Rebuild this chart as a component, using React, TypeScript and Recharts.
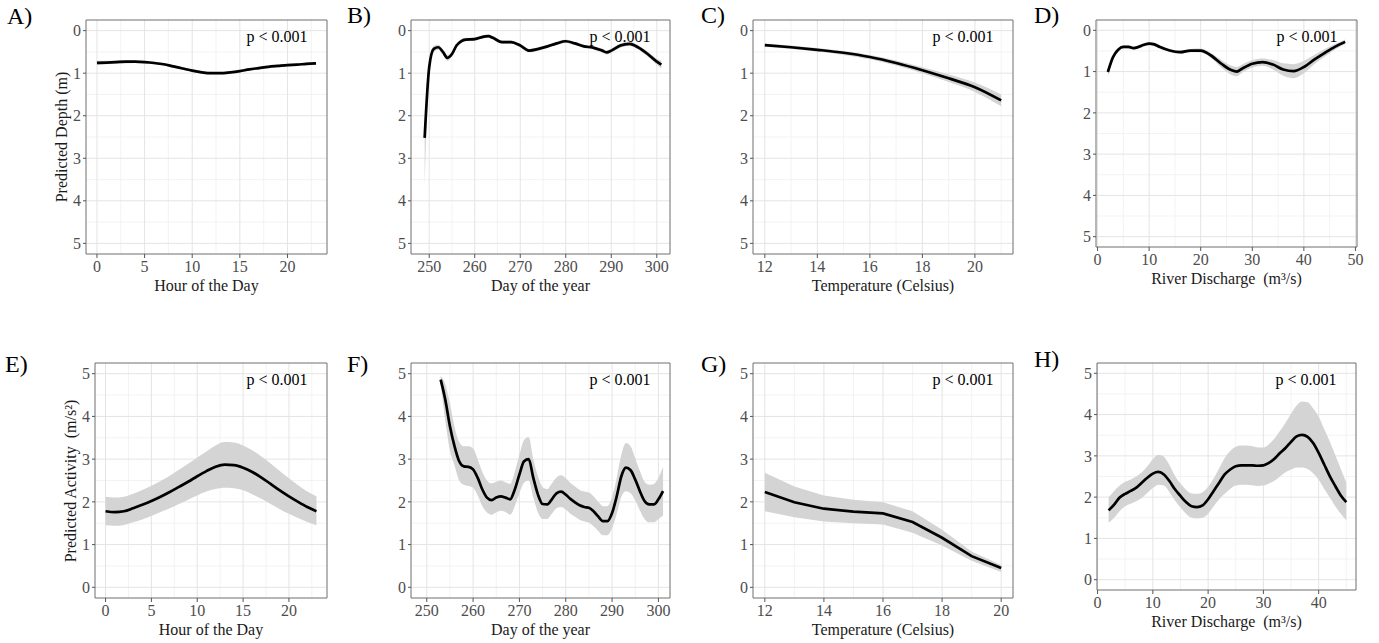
import React from "react";
import { ComposedChart, Area, Line, XAxis, YAxis, CartesianGrid, ReferenceArea } from "recharts";

// ---- data ----
const hours = [0, 1, 2, 3, 4, 5, 6, 7, 8, 9, 10, 11, 12, 13, 14, 15, 16, 17, 18, 19, 20, 21, 22, 23];

const depthHourFit = [0.76, 0.75, 0.74, 0.73, 0.73, 0.74, 0.76, 0.79, 0.84, 0.89, 0.94, 0.98, 1.0, 1.0, 0.98, 0.95, 0.91, 0.88, 0.85, 0.83, 0.81, 0.8, 0.78, 0.77];
const depthHourLo = [0.71, 0.71, 0.7, 0.7, 0.7, 0.71, 0.73, 0.76, 0.81, 0.86, 0.91, 0.95, 0.97, 0.97, 0.95, 0.92, 0.88, 0.85, 0.82, 0.8, 0.78, 0.77, 0.75, 0.73];
const depthHourHi = [0.81, 0.79, 0.78, 0.77, 0.76, 0.77, 0.79, 0.82, 0.87, 0.92, 0.97, 1.01, 1.03, 1.03, 1.01, 0.98, 0.94, 0.91, 0.88, 0.86, 0.84, 0.83, 0.81, 0.81];

const depthDays = [249, 250, 251, 252, 253, 254, 255, 256, 257, 258, 260, 262, 263, 264, 266, 268, 270, 272, 274, 276, 278, 280, 282, 284, 286, 288, 289, 290, 292, 294, 296, 298, 300, 301];
const depthDayFit = [2.52, 0.86, 0.43, 0.39, 0.5, 0.64, 0.55, 0.35, 0.25, 0.21, 0.2, 0.14, 0.13, 0.17, 0.27, 0.27, 0.35, 0.47, 0.43, 0.37, 0.3, 0.25, 0.3, 0.37, 0.4, 0.47, 0.51, 0.47, 0.35, 0.31, 0.4, 0.55, 0.73, 0.8];
const depthDayLo = [2.3, 0.75, 0.36, 0.33, 0.44, 0.57, 0.49, 0.3, 0.2, 0.17, 0.16, 0.1, 0.09, 0.13, 0.23, 0.23, 0.31, 0.43, 0.39, 0.33, 0.26, 0.21, 0.26, 0.33, 0.36, 0.42, 0.46, 0.42, 0.3, 0.26, 0.35, 0.49, 0.66, 0.71];
const depthDayHi = [3.8, 0.97, 0.5, 0.45, 0.56, 0.71, 0.61, 0.4, 0.3, 0.25, 0.24, 0.18, 0.17, 0.21, 0.31, 0.31, 0.39, 0.51, 0.47, 0.41, 0.34, 0.29, 0.34, 0.41, 0.44, 0.52, 0.56, 0.52, 0.4, 0.36, 0.45, 0.61, 0.8, 0.89];

const depthTemps = [12, 13, 14, 15, 16, 17, 18, 19, 20, 21];
const depthTempFit = [0.34, 0.39, 0.45, 0.52, 0.62, 0.76, 0.93, 1.12, 1.33, 1.64];
const depthTempLo = [0.3, 0.35, 0.41, 0.48, 0.57, 0.7, 0.86, 1.03, 1.22, 1.5];
const depthTempHi = [0.38, 0.43, 0.49, 0.57, 0.67, 0.82, 1.0, 1.21, 1.44, 1.78];

const depthFlows = [2, 3, 4, 5, 6, 7, 8, 9, 10, 11, 12, 14, 16, 18, 20, 22, 24, 26, 27, 28, 30, 32, 34, 36, 38, 40, 42, 44, 46, 48];
const depthFlowFit = [1.01, 0.65, 0.47, 0.4, 0.4, 0.43, 0.4, 0.35, 0.32, 0.34, 0.4, 0.49, 0.53, 0.49, 0.49, 0.61, 0.81, 0.97, 1.0, 0.93, 0.81, 0.77, 0.83, 0.95, 0.99, 0.89, 0.71, 0.55, 0.4, 0.28];
const depthFlowLo = [0.93, 0.6, 0.43, 0.36, 0.36, 0.39, 0.36, 0.31, 0.28, 0.3, 0.36, 0.45, 0.49, 0.45, 0.44, 0.55, 0.72, 0.86, 0.89, 0.83, 0.72, 0.68, 0.72, 0.8, 0.82, 0.74, 0.6, 0.46, 0.33, 0.22];
const depthFlowHi = [1.12, 0.7, 0.51, 0.44, 0.44, 0.47, 0.44, 0.39, 0.36, 0.38, 0.44, 0.53, 0.57, 0.53, 0.54, 0.67, 0.9, 1.08, 1.11, 1.03, 0.9, 0.86, 0.95, 1.1, 1.16, 1.04, 0.82, 0.64, 0.47, 0.34];

const actHourFit = [1.78, 1.76, 1.78, 1.85, 1.93, 2.02, 2.12, 2.23, 2.35, 2.47, 2.6, 2.72, 2.82, 2.87, 2.86, 2.8, 2.7, 2.57, 2.42, 2.27, 2.13, 2.0, 1.88, 1.78];
const actHourLo = [1.45, 1.44, 1.46, 1.52, 1.59, 1.67, 1.76, 1.85, 1.95, 2.05, 2.15, 2.24, 2.3, 2.33, 2.32, 2.27, 2.18, 2.07, 1.95, 1.83, 1.72, 1.62, 1.53, 1.45];
const actHourHi = [2.12, 2.1, 2.12, 2.19, 2.28, 2.38, 2.49, 2.61, 2.75, 2.89, 3.04, 3.18, 3.32, 3.4, 3.39, 3.32, 3.21, 3.06, 2.9, 2.72, 2.55, 2.39, 2.24, 2.13];

const actDays = [253, 254, 255, 256, 257, 258, 259, 260, 261, 262, 263, 264, 265, 266, 267, 268, 269, 270, 271, 272, 273, 274, 275, 276, 277, 278, 279, 280, 281, 282, 283, 284, 285, 286, 287, 288, 289, 290, 291, 292, 293, 294, 295, 296, 297, 298, 299, 300, 301];
const actDayFit = [4.86, 4.39, 3.77, 3.3, 2.95, 2.83, 2.82, 2.76, 2.56, 2.29, 2.1, 2.04, 2.1, 2.13, 2.1, 2.06, 2.29, 2.64, 2.95, 3.0, 2.56, 2.17, 1.95, 1.94, 2.06, 2.2, 2.24, 2.17, 2.07, 1.99, 1.92, 1.88, 1.86, 1.78, 1.66, 1.55, 1.55, 1.74, 2.13, 2.6, 2.8, 2.74, 2.52, 2.25, 2.02, 1.94, 1.94, 2.06, 2.25];
const actDayLo = [4.75, 3.9, 3.2, 2.85, 2.5, 2.4, 2.37, 2.33, 2.15, 1.9, 1.75, 1.7, 1.75, 1.79, 1.76, 1.7, 1.9, 2.2, 2.45, 2.5, 2.1, 1.75, 1.6, 1.6, 1.72, 1.85, 1.88, 1.82, 1.72, 1.65, 1.58, 1.54, 1.51, 1.43, 1.32, 1.22, 1.22, 1.38, 1.72, 2.12, 2.25, 2.2, 2.03, 1.8, 1.6, 1.52, 1.52, 1.6, 1.68];
const actDayHi = [4.95, 4.75, 4.3, 3.75, 3.4, 3.3, 3.3, 3.25, 3.0, 2.7, 2.5, 2.43, 2.47, 2.5, 2.46, 2.42, 2.7, 3.1, 3.45, 3.52, 3.0, 2.6, 2.35, 2.3, 2.43, 2.57, 2.62, 2.55, 2.44, 2.36, 2.28, 2.24, 2.22, 2.13, 2.0, 1.9, 1.9, 2.12, 2.56, 3.1, 3.38, 3.3, 3.02, 2.72, 2.47, 2.4, 2.42, 2.56, 2.82];

const actTemps = [12, 13, 14, 15, 16, 17, 18, 19, 20];
const actTempFit = [2.23, 1.99, 1.84, 1.77, 1.73, 1.53, 1.16, 0.73, 0.45];
const actTempLo = [1.78, 1.64, 1.54, 1.5, 1.47, 1.28, 0.98, 0.62, 0.36];
const actTempHi = [2.68, 2.36, 2.15, 2.05, 1.99, 1.78, 1.35, 0.84, 0.52];

const actFlows = [2, 3, 4, 5, 6, 7, 8, 9, 10, 11, 12, 13, 14, 15, 16, 17, 18, 19, 20, 21, 22, 23, 24, 25, 26, 27, 28, 29, 30, 31, 32, 33, 34, 35, 36, 37, 38, 39, 40, 41, 42, 43, 44, 45];
const actFlowFit = [1.68, 1.82, 1.99, 2.08, 2.15, 2.23, 2.35, 2.47, 2.57, 2.61, 2.55, 2.39, 2.19, 2.03, 1.88, 1.78, 1.76, 1.8, 1.95, 2.15, 2.35, 2.55, 2.67, 2.75, 2.77, 2.77, 2.77, 2.76, 2.77, 2.83, 2.93, 3.07, 3.19, 3.34, 3.47, 3.51, 3.46, 3.31, 3.07, 2.79, 2.51, 2.27, 2.04, 1.88];
const actFlowLo = [1.38, 1.5, 1.66, 1.78, 1.84, 1.9, 1.98, 2.1, 2.22, 2.3, 2.28, 2.12, 1.92, 1.75, 1.6, 1.5, 1.48, 1.5, 1.6, 1.78, 1.95, 2.08, 2.2, 2.28, 2.3, 2.3, 2.29, 2.27, 2.28, 2.33, 2.4, 2.5, 2.6, 2.67, 2.72, 2.72, 2.68, 2.58, 2.42, 2.2, 2.0, 1.78, 1.6, 1.44];
const actFlowHi = [1.99, 2.15, 2.28, 2.37, 2.43, 2.5, 2.6, 2.75, 2.92, 3.03, 2.98, 2.78, 2.52, 2.33, 2.18, 2.09, 2.08, 2.12, 2.25, 2.45, 2.7, 2.95, 3.12, 3.22, 3.25, 3.25, 3.23, 3.2, 3.2, 3.28, 3.42, 3.6, 3.8, 4.02, 4.22, 4.32, 4.3, 4.15, 3.95, 3.65, 3.35, 3.02, 2.68, 2.35];

const yTicks = [0, 1, 2, 3, 4, 5];
const yMinor = [0.5, 1.5, 2.5, 3.5, 4.5];
const hourTicks = [0, 5, 10, 15, 20];
const hourMinor = [2.5, 7.5, 12.5, 17.5, 22.5];
const dayTicks = [250, 260, 270, 280, 290, 300];
const dayMinor = [255, 265, 275, 285, 295];
const tempTicksA = [12, 14, 16, 18, 20];
const tempMinorA = [13, 15, 17, 19, 21];
const tempMinorB = [13, 15, 17, 19];
const flowTicksA = [0, 10, 20, 30, 40, 50];
const flowTicksB = [0, 10, 20, 30, 40];
const flowMinor = [5, 15, 25, 35, 45];

const SERIF = "'Liberation Serif', 'Times New Roman', serif";

type PanelProps = {
  letter: string;
  letterPos: [number, number];
  box: [number, number, number, number];
  xDomain: [number, number];
  xTicks: number[];
  xMinor: number[];
  reversed: boolean;
  xs: number[];
  fit: number[];
  lo: number[];
  hi: number[];
  xTitle: string;
  yTitle?: string;
  curve?: "monotone" | "linear";
};

function Panel(p: PanelProps) {
  const [x0, y0, x1, y1] = p.box;
  const padL = 50, padT = 10, padR = 10, padB = 50;
  const w = x1 - x0;
  const h = y1 - y0;
  const rows = p.xs.map((x, i) => ({ x, fit: p.fit[i], band: [p.lo[i], p.hi[i]] }));
  const curve = p.curve ?? "monotone";
  return (
    <>
      <div style={{ position: "absolute", left: p.letterPos[0], top: p.letterPos[1], fontFamily: SERIF, fontSize: 24, lineHeight: "24px", color: "#000" }}>
        {p.letter}
      </div>
      <div style={{ position: "absolute", left: x0 - padL, top: y0 - padT }}>
        <ComposedChart width={w + padL + padR} height={h + padT + padB} data={rows} margin={{ top: padT, right: padR, left: 0, bottom: 0 }}>
          <CartesianGrid verticalValues={p.xMinor} horizontalValues={yMinor} stroke="#f0f0f0" strokeWidth={0.8} />
          <CartesianGrid verticalValues={p.xTicks} horizontalValues={yTicks} stroke="#e4e4e4" strokeWidth={1} />
          <XAxis
            type="number"
            dataKey="x"
            domain={p.xDomain}
            ticks={p.xTicks}
            interval={0}
            allowDataOverflow
            height={padB}
            axisLine={false}
            tickSize={4}
            tickMargin={3}
            tickLine={{ stroke: "#555" }}
            tick={{ fill: "#4d4d4d", fontSize: 16, fontFamily: SERIF }}
          />
          <YAxis
            type="number"
            domain={[-0.25, 5.25]}
            ticks={yTicks}
            interval={0}
            allowDataOverflow
            reversed={p.reversed}
            width={padL}
            axisLine={false}
            tickSize={3}
            tickMargin={2}
            tickLine={{ stroke: "#555" }}
            tick={{ fill: "#4d4d4d", fontSize: 16, fontFamily: SERIF }}
          />
          <Area type={curve} dataKey="band" stroke="none" fill="#d4d4d4" fillOpacity={1} isAnimationActive={false} />
          <Line type={curve} dataKey="fit" stroke="#000" strokeWidth={2.7} dot={false} isAnimationActive={false} />
          <ReferenceArea x1={p.xDomain[0]} x2={p.xDomain[1]} y1={-0.25} y2={5.25} fill="none" stroke="#6f6f6f" strokeWidth={1} ifOverflow="visible" />
        </ComposedChart>
      </div>
      <div style={{ position: "absolute", left: x1 - 50, top: y0 + 17, transform: "translate(-50%, -50%)", fontFamily: SERIF, fontSize: 16, whiteSpace: "nowrap", color: "#000" }}>
        p &lt; 0.001
      </div>
      <div style={{ position: "absolute", left: (x0 + x1) / 2, top: y1 + 32, transform: "translate(-50%, -50%)", fontFamily: SERIF, fontSize: 16, whiteSpace: "pre", color: "#1a1a1a" }}>
        {p.xTitle}
      </div>
      {p.yTitle && (
        <div style={{ position: "absolute", left: x0 - 24, top: (y0 + y1) / 2, transform: "translate(-50%, -50%) rotate(-90deg)", fontFamily: SERIF, fontSize: 16, whiteSpace: "pre", color: "#1a1a1a" }}>
          {p.yTitle}
        </div>
      )}
    </>
  );
}

export default function App() {
  return (
    <div style={{ position: "absolute", left: 0, top: 0, width: 1379, height: 643, background: "#fff", overflow: "hidden" }}>
      <Panel letter="A)" letterPos={[7, 4]} box={[86, 20, 327, 254]} xDomain={[-1.15, 24.15]} xTicks={hourTicks} xMinor={hourMinor} reversed
        xs={hours} fit={depthHourFit} lo={depthHourLo} hi={depthHourHi} xTitle="Hour of the Day" yTitle="Predicted Depth (m)" />
      <Panel letter="B)" letterPos={[347, 3]} box={[411, 20, 670, 254]} xDomain={[246, 302.9]} xTicks={dayTicks} xMinor={dayMinor} reversed
        xs={depthDays} fit={depthDayFit} lo={depthDayLo} hi={depthDayHi} xTitle="Day of the year" />
      <Panel letter="C)" letterPos={[701, 3]} box={[753, 20, 1013, 254]} xDomain={[11.55, 21.45]} xTicks={tempTicksA} xMinor={tempMinorA} reversed
        xs={depthTemps} fit={depthTempFit} lo={depthTempLo} hi={depthTempHi} xTitle="Temperature (Celsius)" />
      <Panel letter="D)" letterPos={[1034, 3]} box={[1096, 20, 1357, 247]} xDomain={[-0.3, 50.3]} xTicks={flowTicksA} xMinor={flowMinor} reversed
        xs={depthFlows} fit={depthFlowFit} lo={depthFlowLo} hi={depthFlowHi} xTitle="River Discharge  (m³/s)" />

      <Panel letter="E)" letterPos={[5, 352]} box={[95, 363, 327, 598]} xDomain={[-1.15, 24.15]} xTicks={hourTicks} xMinor={hourMinor} reversed={false}
        xs={hours} fit={actHourFit} lo={actHourLo} hi={actHourHi} xTitle="Hour of the Day" yTitle="Predicted Activity  (m/s²)" />
      <Panel letter="F)" letterPos={[347, 352]} box={[411, 363, 670, 598]} xDomain={[246.6, 302.5]} xTicks={dayTicks} xMinor={dayMinor} reversed={false}
        xs={actDays} fit={actDayFit} lo={actDayLo} hi={actDayHi} xTitle="Day of the year" />
      <Panel letter="G)" letterPos={[701, 352]} box={[753, 363, 1013, 598]} xDomain={[11.6, 20.4]} xTicks={tempTicksA} xMinor={tempMinorB} reversed={false}
        xs={actTemps} fit={actTempFit} lo={actTempLo} hi={actTempHi} xTitle="Temperature (Celsius)" curve="linear" />
      <Panel letter="H)" letterPos={[1034, 347]} box={[1097, 363, 1356, 590]} xDomain={[-0.1, 46.75]} xTicks={flowTicksB} xMinor={flowMinor} reversed={false}
        xs={actFlows} fit={actFlowFit} lo={actFlowLo} hi={actFlowHi} xTitle="River Discharge  (m³/s)" />
    </div>
  );
}
